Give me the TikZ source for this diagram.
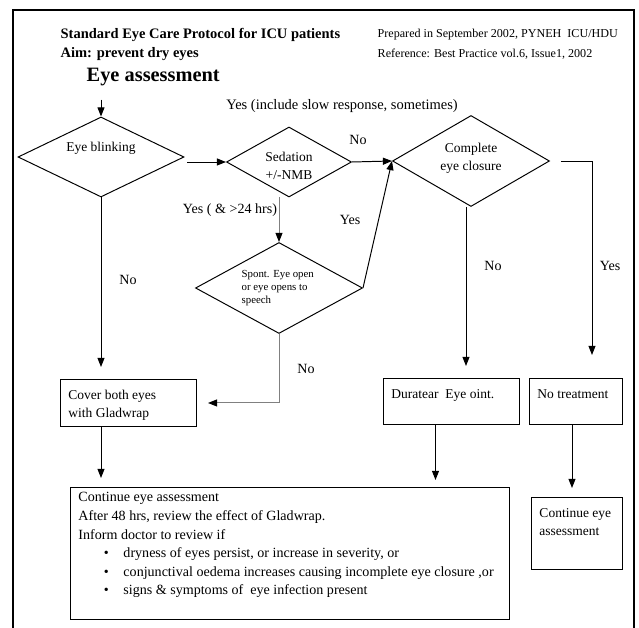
\documentclass[tikz,border=0pt]{standalone}
\usepackage{fontspec}
\setmainfont{Liberation Serif}
\usetikzlibrary{positioning}
\usetikzlibrary{shapes.geometric}
\usetikzlibrary{arrows.meta}
\newlength{\unitpx}
\setlength{\unitpx}{0.025cm}
\newcommand{\boxtext}[4]{\parbox[c][#2\unitpx][t]{#1\unitpx}{\vspace*{#3pt}\raggedright\strut#4}}
\newcommand{\bul}{\hspace*{18pt}\makebox[14pt][l]{\textbullet}}

\begin{document}
\begin{tikzpicture}[x=0.025cm,y=-0.025cm,
  every node/.style={font=\fontsize{9.6}{13}\selectfont,inner sep=1pt},
  dia/.style={draw,shape=diamond,inner sep=0pt,line width=0.7pt},
  box/.style={draw,anchor=north west,inner xsep=8\unitpx,inner ysep=0pt,line width=0.7pt},
  arr/.style={-{Triangle[width=5pt,length=6.5pt,black]},line width=0.7pt},
  lbl/.style={font=\fontsize{10}{12}\selectfont},
  small/.style={font=\fontsize{7.7}{9.3}\selectfont},
  head/.style={anchor=west,font=\fontsize{10.3}{13}\selectfont\bfseries},
  note/.style={anchor=west,font=\fontsize{8.6}{11}\selectfont}]
\useasboundingbox (0,0) rectangle (639,628);
\draw[line width=1.5pt] (13,628) -- (13,10) -- (634,10) -- (634,628);

\node[head] (title) at (59,35) {Standard Eye Care Protocol for ICU patients};
\node[head] (aim) at (59,54) {Aim: prevent dry eyes};
\node[note] (prep) at (376,35) {Prepared in September 2002, PYNEH\ \ ICU/HDU};
\node[note] (ref) at (376,54) {Reference: Best Practice vol.6, Issue1, 2002};
\node[head,font=\fontsize{14.5}{16}\selectfont\bfseries] (assess) at (85,77) {Eye assessment};

\node[dia,minimum width=166\unitpx,minimum height=80\unitpx] (blink) at (101,157) {};
\node (blinktxt) at (101,148) {Eye blinking};
\node[dia,minimum width=125\unitpx,minimum height=70\unitpx] (sed) at (289,162) {};
\node[align=center] (sedtxt) at (289,166) {Sedation\\+/-NMB};
\node[dia,minimum width=157\unitpx,minimum height=91\unitpx] (comp) at (471,161) {};
\node[align=center] (comptxt) at (471,158) {Complete\\eye closure};
\node[dia,minimum width=167\unitpx,minimum height=91\unitpx] (spont) at (279,288) {};
\node[small,align=left,anchor=west] (sponttxt) at (240,288) {Spont. Eye open\\or eye opens to\\speech};

\node[box] (cover) at (60,379) {\boxtext{120}{47}{5}{Cover both eyes\\with Gladwrap}};
\node[box] (durat) at (383,378) {\boxtext{120}{46}{5}{Duratear\ \ Eye oint.}};
\node[box] (notreat) at (529,378) {\boxtext{77}{46}{5}{No treatment}};
\node[box,font=\fontsize{10}{13.2}\selectfont] (cont) at (70,487) {\boxtext{423}{132}{1}{Continue eye assessment\\
After 48 hrs, review the effect of Gladwrap.\\
Inform doctor to review if\\
\bul dryness of eyes persist, or increase in severity, or\\
\bul conjunctival oedema increases causing incomplete eye closure ,or\\
\bul signs \& symptoms of\ \ eye infection present}};
\node[box] (contsmall) at (531,497) {\boxtext{75}{72}{5}{Continue eye\\assessment}};

\node[lbl,font=\fontsize{10.3}{12}\selectfont] (yesslow) at (342,106) {Yes (include slow response, sometimes)};
\node[lbl] (nosed) at (358,140) {No};
\node[lbl] (yes24) at (230,210) {Yes ( \& >24 hrs)};
\node[lbl] (yesspont) at (350,220) {Yes};
\node[lbl] (noblink) at (128,280) {No};
\node[lbl] (nospont) at (306,369) {No};
\node[lbl] (nocomp) at (493,266) {No};
\node[lbl] (yescomp) at (610,266) {Yes};
\coordinate (yesdrop) at (592,355);

\draw[arr] ([yshift=-12\unitpx]assess.south -| blink.north) -- (blink.north);
\draw[arr] ([xshift=3\unitpx]blink.east |- sed.west) -- (sed.west);
\draw[arr] (sed.east) -- (comp.west);
\draw[arr,gray] (sed.south -| spont.north) -- (spont.north);
\draw[arr] (spont.east) -- (comp.west);
\draw[arr,gray] (spont.south) |- ([xshift=11\unitpx]cover.east);
\draw[arr] (blink.south) -- ([yshift=12\unitpx]cover.north -| blink.south);
\draw[arr] ([xshift=-5\unitpx]comp.south) -- ([xshift=-5\unitpx,yshift=12\unitpx]comp.south |- durat.north);
\draw[arr] ([xshift=11\unitpx]comp.east) -| (yesdrop);
\draw[arr] (blink.south |- cover.south) -- ([yshift=9\unitpx]blink.south |- cont.north);
\draw[arr] ([xshift=-16\unitpx]durat.south) -- ([xshift=-16\unitpx,yshift=7\unitpx]durat.south |- cont.north);
\draw[arr] ([xshift=-4\unitpx]notreat.south) -- ([xshift=-4\unitpx,yshift=9\unitpx]notreat.south |- contsmall.north);
\end{tikzpicture}
\end{document}
